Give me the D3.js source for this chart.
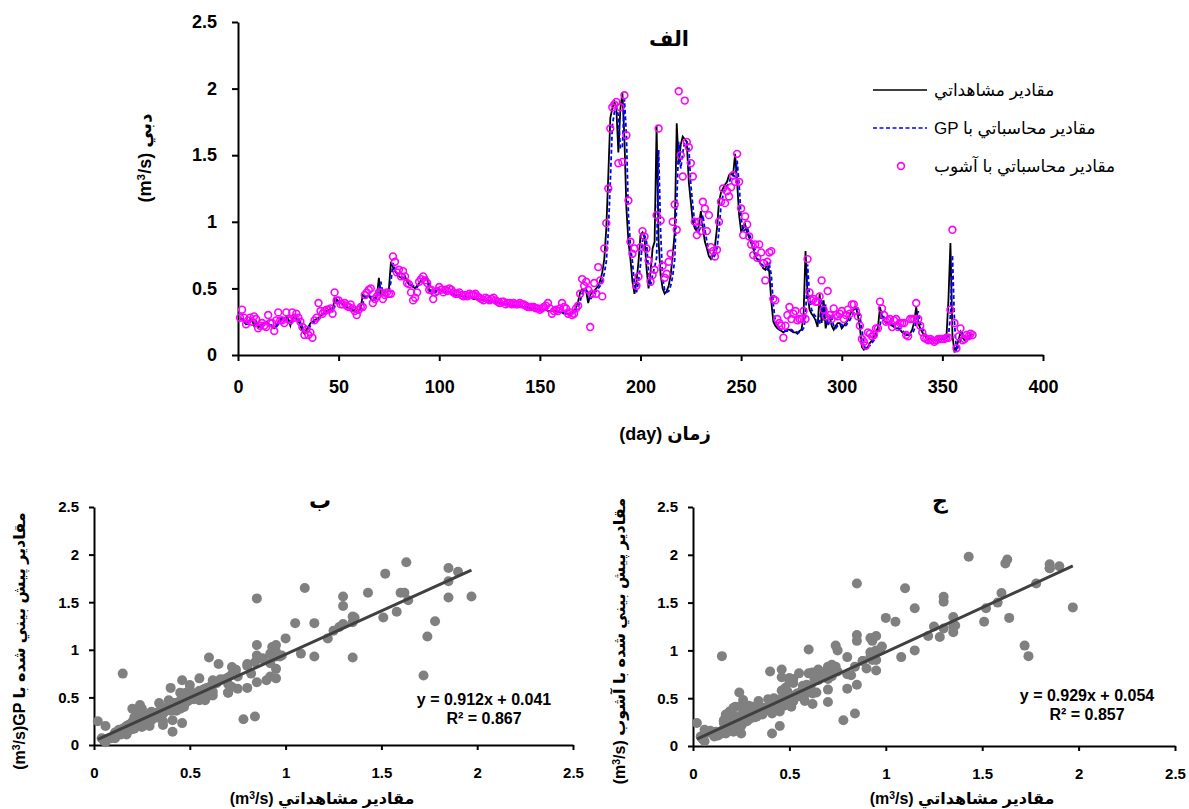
<!DOCTYPE html>
<html>
<head>
<meta charset="utf-8">
<script src="https://cdn.jsdelivr.net/npm/d3@7"></script>
<style>
  body { margin: 0; background: #fff; }
  svg { display: block; }
</style>
</head>
<body>
<svg id="chart" width="1189" height="809"></svg>
<script>
// Daily discharge (m3/s), day 1..365.
var observed = [
  0.28,0.27,0.25,0.23,0.24,0.27,0.26,0.22,0.25,0.21,
  0.22,0.24,0.23,0.25,0.24,0.22,0.21,0.20,0.22,0.25,
  0.27,0.28,0.26,0.29,0.27,0.22,0.28,0.29,0.27,0.26,
  0.22,0.18,0.16,0.19,0.21,0.24,0.25,0.26,0.27,0.28,
  0.29,0.31,0.32,0.33,0.34,0.35,0.33,0.43,0.42,0.40,
  0.39,0.38,0.37,0.36,0.35,0.34,0.33,0.34,0.32,0.33,
  0.36,0.45,0.44,0.43,0.45,0.42,0.41,0.43,0.44,0.58,
  0.45,0.46,0.48,0.47,0.50,0.70,0.66,0.63,0.61,0.59,
  0.58,0.57,0.59,0.55,0.53,0.52,0.51,0.50,0.52,0.54,
  0.56,0.58,0.57,0.58,0.48,0.46,0.47,0.48,0.49,0.49,
  0.48,0.48,0.47,0.47,0.47,0.46,0.46,0.45,0.45,0.45,
  0.44,0.44,0.44,0.43,0.43,0.43,0.42,0.42,0.42,0.42,
  0.41,0.41,0.41,0.41,0.40,0.40,0.40,0.40,0.39,0.39,
  0.39,0.38,0.38,0.38,0.38,0.37,0.37,0.37,0.37,0.36,
  0.36,0.36,0.36,0.36,0.35,0.35,0.35,0.35,0.34,0.34,
  0.34,0.34,0.34,0.33,0.33,0.33,0.33,0.33,0.32,0.32,
  0.32,0.31,0.31,0.31,0.31,0.32,0.33,0.36,0.40,0.47,
  0.49,0.49,0.48,0.39,0.45,0.47,0.48,0.50,0.52,0.56,
  0.62,0.72,0.95,1.35,1.78,1.85,1.90,1.85,1.52,1.85,
  1.97,1.63,1.10,0.85,0.72,0.55,0.46,0.55,0.70,0.90,
  0.92,0.88,0.65,0.50,0.62,0.80,0.85,1.72,0.85,0.60,
  0.50,0.46,0.48,0.52,0.60,0.75,0.92,1.74,1.43,1.58,
  1.64,1.62,1.60,1.30,1.15,1.00,0.95,0.93,0.97,1.08,
  0.95,0.85,0.80,0.74,0.72,0.75,0.82,0.95,1.15,1.22,
  1.25,1.28,1.30,1.35,1.36,1.35,1.51,1.30,1.05,0.93,
  0.95,0.98,0.92,0.88,0.84,0.80,0.74,0.72,0.70,0.68,
  0.65,0.64,0.70,0.62,0.40,0.25,0.22,0.20,0.19,0.18,
  0.17,0.18,0.19,0.19,0.18,0.17,0.17,0.16,0.18,0.19,
  0.29,0.78,0.46,0.34,0.31,0.29,0.26,0.21,0.46,0.24,
  0.41,0.20,0.26,0.29,0.22,0.19,0.22,0.24,0.24,0.20,
  0.22,0.24,0.26,0.30,0.33,0.34,0.36,0.30,0.21,0.06,
  0.04,0.05,0.06,0.09,0.11,0.14,0.17,0.21,0.36,0.29,
  0.26,0.24,0.24,0.23,0.22,0.21,0.20,0.20,0.19,0.17,
  0.16,0.15,0.15,0.16,0.19,0.25,0.36,0.24,0.20,0.17,
  0.15,0.13,0.12,0.12,0.11,0.11,0.11,0.12,0.12,0.12,
  0.12,0.13,0.41,0.84,0.15,0.02,0.06,0.11,0.17,0.13,
  0.11,0.12,0.14,0.15,0.16
];

// Values computed with GP.
var predictedGP = [
  0.27,0.27,0.26,0.24,0.23,0.25,0.26,0.24,0.23,0.22,
  0.21,0.23,0.23,0.24,0.24,0.23,0.22,0.21,0.21,0.23,
  0.25,0.27,0.27,0.27,0.28,0.25,0.25,0.28,0.28,0.27,
  0.25,0.21,0.18,0.17,0.19,0.22,0.24,0.25,0.26,0.27,
  0.28,0.30,0.31,0.32,0.33,0.34,0.34,0.36,0.42,0.41,
  0.40,0.39,0.38,0.37,0.36,0.35,0.34,0.33,0.33,0.32,
  0.33,0.38,0.44,0.43,0.44,0.44,0.42,0.42,0.43,0.47,
  0.55,0.46,0.47,0.48,0.48,0.55,0.69,0.65,0.62,0.60,
  0.59,0.58,0.58,0.57,0.54,0.53,0.52,0.51,0.51,0.53,
  0.55,0.57,0.58,0.57,0.55,0.47,0.46,0.47,0.48,0.49,
  0.49,0.48,0.48,0.47,0.47,0.47,0.46,0.46,0.45,0.45,
  0.45,0.44,0.44,0.44,0.43,0.43,0.43,0.42,0.42,0.42,
  0.42,0.41,0.41,0.41,0.41,0.40,0.40,0.40,0.40,0.39,
  0.39,0.39,0.38,0.38,0.38,0.38,0.37,0.37,0.37,0.37,
  0.36,0.36,0.36,0.36,0.36,0.35,0.35,0.35,0.35,0.34,
  0.34,0.34,0.34,0.34,0.33,0.33,0.33,0.33,0.33,0.32,
  0.32,0.32,0.31,0.31,0.31,0.31,0.32,0.33,0.36,0.40,
  0.46,0.48,0.49,0.47,0.41,0.44,0.46,0.48,0.50,0.52,
  0.56,0.61,0.70,0.92,1.30,1.72,1.82,1.86,1.80,1.55,
  1.56,1.92,1.65,1.05,0.82,0.70,0.53,0.47,0.55,0.68,
  0.86,0.90,0.85,0.63,0.52,0.60,0.66,0.73,1.54,0.92,
  0.58,0.49,0.47,0.48,0.52,0.59,0.72,1.14,1.60,1.40,
  1.52,1.60,1.60,1.56,1.28,1.12,0.98,0.94,0.93,0.96,
  1.05,0.94,0.85,0.79,0.74,0.72,0.75,0.80,0.93,1.12,
  1.20,1.24,1.27,1.29,1.34,1.35,1.34,1.46,1.28,1.03,
  0.93,0.94,0.96,0.91,0.87,0.83,0.79,0.74,0.71,0.69,
  0.67,0.65,0.64,0.68,0.60,0.38,0.25,0.22,0.20,0.19,
  0.18,0.18,0.18,0.19,0.19,0.18,0.18,0.17,0.17,0.18,
  0.20,0.27,0.68,0.44,0.34,0.31,0.29,0.26,0.23,0.42,
  0.26,0.38,0.22,0.25,0.28,0.22,0.20,0.22,0.23,0.23,
  0.21,0.22,0.24,0.26,0.29,0.32,0.34,0.35,0.29,0.20,
  0.07,0.05,0.06,0.07,0.09,0.11,0.14,0.17,0.21,0.33,
  0.28,0.26,0.24,0.24,0.23,0.22,0.21,0.20,0.20,0.19,
  0.17,0.16,0.15,0.15,0.16,0.19,0.25,0.33,0.24,0.20,
  0.17,0.15,0.13,0.12,0.12,0.11,0.11,0.11,0.12,0.12,
  0.12,0.12,0.14,0.30,0.75,0.25,0.03,0.07,0.11,0.16,
  0.13,0.11,0.12,0.14,0.15
];

// Values computed with chaos theory (circles).
var predictedChaos = [
  0.28,0.34,0.28,0.23,0.26,0.28,0.25,0.29,0.27,0.20,
  0.22,0.24,0.22,0.21,0.30,0.24,0.24,0.18,0.26,0.32,
  0.26,0.26,0.24,0.32,0.27,0.26,0.32,0.28,0.31,0.28,
  0.25,0.21,0.15,0.19,0.15,0.17,0.13,0.26,0.28,0.39,
  0.33,0.31,0.33,0.34,0.34,0.35,0.31,0.47,0.41,0.41,
  0.38,0.38,0.39,0.37,0.36,0.38,0.35,0.33,0.30,0.34,
  0.36,0.36,0.45,0.47,0.49,0.50,0.39,0.42,0.44,0.47,
  0.47,0.42,0.45,0.47,0.46,0.46,0.74,0.70,0.62,0.64,
  0.59,0.63,0.59,0.54,0.53,0.47,0.41,0.43,0.47,0.55,
  0.57,0.59,0.56,0.54,0.49,0.49,0.42,0.47,0.48,0.51,
  0.49,0.47,0.49,0.48,0.50,0.49,0.47,0.46,0.46,0.47,
  0.45,0.44,0.45,0.44,0.46,0.45,0.45,0.46,0.44,0.43,
  0.42,0.41,0.43,0.42,0.41,0.42,0.43,0.41,0.40,0.39,
  0.40,0.40,0.38,0.39,0.39,0.38,0.39,0.38,0.38,0.39,
  0.38,0.38,0.37,0.36,0.36,0.36,0.36,0.35,0.35,0.34,
  0.35,0.36,0.37,0.39,0.35,0.31,0.33,0.34,0.33,0.35,
  0.39,0.36,0.35,0.31,0.32,0.30,0.31,0.35,0.37,0.46,
  0.57,0.52,0.55,0.49,0.21,0.46,0.54,0.46,0.66,0.56,
  0.44,0.80,0.99,1.25,1.70,1.86,1.88,1.90,1.44,1.86,
  1.45,1.95,1.65,1.16,0.85,0.76,0.80,0.52,0.59,0.81,
  0.93,0.89,0.80,0.71,0.55,0.60,0.64,1.05,1.70,1.01,
  0.67,0.58,0.61,0.70,0.76,1.00,1.13,0.94,1.98,1.50,
  1.34,1.91,1.60,1.56,1.44,1.34,1.00,0.90,1.00,0.93,
  1.15,1.10,0.93,1.05,0.81,0.78,0.74,0.79,1.00,1.15,
  1.25,1.14,1.23,1.19,1.26,1.35,1.30,1.51,1.30,1.10,
  0.90,1.04,0.98,0.89,0.83,0.75,0.83,0.73,0.83,0.77,
  0.69,0.56,0.70,0.77,0.78,0.42,0.41,0.27,0.24,0.22,
  0.13,0.22,0.30,0.36,0.27,0.31,0.33,0.26,0.27,0.27,
  0.33,0.27,0.72,0.47,0.41,0.42,0.40,0.40,0.44,0.56,
  0.34,0.29,0.48,0.30,0.27,0.35,0.30,0.29,0.31,0.33,
  0.27,0.30,0.34,0.31,0.38,0.38,0.33,0.29,0.22,0.12,
  0.10,0.07,0.17,0.16,0.14,0.15,0.20,0.20,0.40,0.35,
  0.30,0.25,0.26,0.27,0.21,0.26,0.27,0.21,0.24,0.24,
  0.24,0.15,0.14,0.27,0.27,0.27,0.39,0.27,0.22,0.17,
  0.13,0.12,0.11,0.12,0.11,0.10,0.11,0.12,0.12,0.12,
  0.12,0.13,0.13,0.34,0.94,0.24,0.05,0.14,0.20,0.11,
  0.12,0.15,0.14,0.16,0.15
];

var days = d3.range(1, observed.length + 1);

// Axis ticks
var xTicksTime = [0, 50, 100, 150, 200, 250, 300, 350, 400];
var yTicksFlow = [0, 0.5, 1, 1.5, 2, 2.5];
var ticksScatter = [0, 0.5, 1, 1.5, 2, 2.5];

// Trend lines printed on the scatter plots: slope, intercept, R2
var fitGP = [0.912, 0.041, 0.867];
var fitChaos = [0.929, 0.054, 0.857];

// Legend labels
var legendLabels = ["مقادير مشاهداتي", "GP مقادير محاسباتي با", "مقادير محاسباتي با آشوب"];

var FONT = "'Liberation Sans', Arial, 'DejaVu Sans', sans-serif";
var svg = d3.select("#chart").attr("font-family", FONT);


// Make an axis look like the Excel one: thick black lines, bold labels.
function styleAxis (g, size) {
    g.attr("font-family", FONT);
    g.select(".domain").attr("stroke", "#000").attr("stroke-width", 2);
    g.selectAll(".tick line").attr("stroke", "#000").attr("stroke-width", 2);
    g.selectAll(".tick text")
        .attr("font-size", size).attr("font-weight", "bold").attr("fill", "#000");
}

// Text with a superscript 3 in "(m3/s)".
function unitText (parent, before, after, size) {
    var t = parent.append("text")
        .attr("font-size", size).attr("font-weight", "bold").attr("fill", "#000");
    t.append("tspan").text(before + "(m");
    t.append("tspan").attr("font-size", size * 0.65).attr("baseline-shift", "super").text("3");
    t.append("tspan").text("/s)" + after);
    return t;
}


// ---------- Top panel: time series ----------
var x = d3.scaleLinear().domain([0, 400]).range([238, 1043]);
var y = d3.scaleLinear().domain([0, 2.5]).range([355, 22]);

svg.append("g")
    .attr("transform", "translate(0,355)")
    .call(d3.axisBottom(x).tickValues(xTicksTime).tickSize(6).tickSizeOuter(0).tickPadding(19))
    .call(function (g) { styleAxis(g, 18); });

svg.append("g")
    .attr("transform", "translate(238,0)")
    .call(d3.axisLeft(y).tickValues(yTicksFlow).tickSize(6).tickSizeOuter(0).tickPadding(15)
        .tickFormat(function (d) { return d; }))
    .call(function (g) { styleAxis(g, 18); });

var line = d3.line()
    .x(function (d, i) { return x(days[i]); })
    .y(function (d) { return y(d); });

svg.append("path").datum(observed)
    .attr("d", line).attr("fill", "none")
    .attr("stroke", "#000").attr("stroke-width", 1.8);

svg.append("path").datum(predictedGP)
    .attr("d", line).attr("fill", "none")
    .attr("stroke", "#0000ff").attr("stroke-width", 1.8).attr("stroke-dasharray", "4,2.5");

svg.append("g").selectAll("circle")
    .data(predictedChaos)
    .join("circle")
    .attr("cx", function (d, i) { return x(days[i]); })
    .attr("cy", function (d) { return y(d); })
    .attr("r", 3.4)
    .attr("fill", "none").attr("stroke", "#ff00ff").attr("stroke-width", 1.6);

// Title
svg.append("text").attr("x", 669).attr("y", 46).attr("text-anchor", "middle")
    .attr("font-size", 21).attr("font-weight", "bold").text("الف");

// Axis titles
svg.append("text").attr("x", 665).attr("y", 440).attr("text-anchor", "middle")
    .attr("font-size", 18).attr("font-weight", "bold").text("(day) زمان");

unitText(svg, "", " دبي", 18)
    .attr("text-anchor", "middle")
    .attr("transform", "translate(151,158) rotate(-90)");

// Legend
var legend = svg.append("g");
legend.append("line").attr("x1", 873).attr("x2", 927).attr("y1", 90).attr("y2", 90)
    .attr("stroke", "#000").attr("stroke-width", 1.5);
legend.append("line").attr("x1", 873).attr("x2", 927).attr("y1", 128).attr("y2", 128)
    .attr("stroke", "#0000ff").attr("stroke-width", 1.5).attr("stroke-dasharray", "4,2.5");
legend.append("circle").attr("cx", 901).attr("cy", 166).attr("r", 3.4)
    .attr("fill", "none").attr("stroke", "#ff00ff").attr("stroke-width", 1.6);
legend.selectAll("text.leg")
    .data(legendLabels)
    .join("text")
    .attr("class", "leg")
    .attr("x", 934)
    .attr("y", function (d, i) { return 96 + i * 38; })
    .attr("font-size", 17)
    .text(function (d) { return d; });


// ---------- Bottom panels: scatter plots ----------
function drawScatter (cfg) {
    var sx = d3.scaleLinear().domain([0, 2.5]).range([cfg.left, cfg.right]);
    var sy = d3.scaleLinear().domain([0, 2.5]).range([cfg.bottom, cfg.top]);
    var g = svg.append("g");

    g.append("g")
        .attr("transform", "translate(0," + cfg.bottom + ")")
        .call(d3.axisBottom(sx).tickValues(ticksScatter).tickSize(5).tickSizeOuter(0).tickPadding(17)
            .tickFormat(function (d) { return d; }))
        .call(function (a) { styleAxis(a, 15); });

    g.append("g")
        .attr("transform", "translate(" + cfg.left + ",0)")
        .call(d3.axisLeft(sy).tickValues(ticksScatter).tickSize(5).tickSizeOuter(0).tickPadding(10)
            .tickFormat(function (d) { return d; }))
        .call(function (a) { styleAxis(a, 15); });

    g.append("g").selectAll("circle")
        .data(cfg.predicted)
        .join("circle")
        .attr("cx", function (d, i) { return sx(observed[i]); })
        .attr("cy", function (d) { return sy(d); })
        .attr("r", 5)
        .attr("fill", "#808080");

    // Linear trend line over the observed range
    var ext = d3.extent(observed);
    g.append("line")
        .attr("x1", sx(ext[0])).attr("y1", sy(cfg.fit[0] * ext[0] + cfg.fit[1]))
        .attr("x2", sx(ext[1])).attr("y2", sy(cfg.fit[0] * ext[1] + cfg.fit[1]))
        .attr("stroke", "#404040").attr("stroke-width", 3);

    g.append("text").attr("x", cfg.eqX).attr("y", cfg.eqY).attr("text-anchor", "middle")
        .attr("font-size", 16).attr("font-weight", "bold")
        .text("y = " + cfg.fit[0] + "x + " + cfg.fit[1].toFixed(3));
    g.append("text").attr("x", cfg.eqX).attr("y", cfg.eqY + 19).attr("text-anchor", "middle")
        .attr("font-size", 16).attr("font-weight", "bold")
        .text("R² = " + cfg.fit[2]);

    g.append("text").attr("x", cfg.titleX).attr("y", 508).attr("text-anchor", "middle")
        .attr("font-size", 22).attr("font-weight", "bold").text(cfg.title);

    unitText(g, "", " مقادير مشاهداتي", 16)
        .attr("text-anchor", "middle")
        .attr("x", cfg.xTitleX).attr("y", 804);

    unitText(g, "", cfg.yTitle, 16)
        .attr("text-anchor", "middle")
        .attr("transform", "translate(" + cfg.yTitleX + ",641) rotate(-90)");
}

drawScatter({
    left: 94, right: 573, top: 507, bottom: 745,
    predicted: predictedGP, fit: fitGP,
    eqX: 484, eqY: 705, title: "ب", titleX: 320, xTitleX: 322,
    yTitle: "GP  مقادير پيش بيني شده با", yTitleX: 25
});

drawScatter({
    left: 693, right: 1175, top: 507, bottom: 746,
    predicted: predictedChaos, fit: fitChaos,
    eqX: 1087, eqY: 701, title: "ج", titleX: 940, xTitleX: 962,
    yTitle: " مقادير پيش بيني شده با آشوب", yTitleX: 625
});
</script>
</body>
</html>
